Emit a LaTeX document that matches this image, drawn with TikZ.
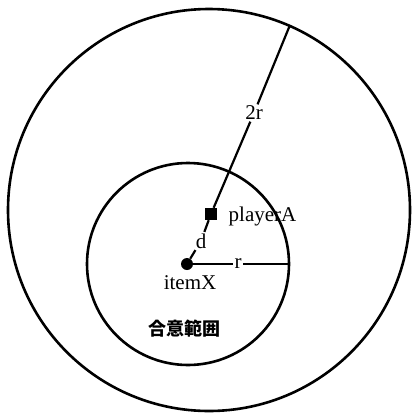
\documentclass[tikz,border=0pt]{standalone}
\usepackage{fontspec}
\setmainfont{Liberation Serif}
\newfontfamily\cjk{Noto Sans CJK JP}
\begin{document}
\begin{tikzpicture}[x=1pt,y=-1pt,
  ring/.style={draw=black,line width=2.6pt},
  seg/.style={draw=black,line width=2.2pt},
  lab/.style={inner sep=1.5pt,font=\fontsize{21}{24}\selectfont},
  dotnode/.style={circle,fill=black,inner sep=0pt,minimum size=12pt},
  sqnode/.style={rectangle,fill=black,inner sep=0pt,minimum size=12pt}]
\useasboundingbox (0,0) rectangle (412,416);
% circles
\draw[ring] (209,210) circle (201);
\draw[ring] (188,264) circle (101);
% points
\node[dotnode] (item) at (187,264) {};
\node[sqnode] (player) at (211,214) {};
\coordinate (rend) at (289,264);
\coordinate (outer) at (290,25);
% labels
\node[lab] (rlab) at (238,264) {r};
\node[lab] (dlab) at (201,241) {d};
\node[lab] (tworlab) at (254,113) {2r};
\node[lab,anchor=west] (plab) at (227,216) {playerA};
\node[lab] (ilab) at (190,283) {itemX};
\node[inner sep=0pt,font=\cjk\bfseries\fontsize{18}{20}\selectfont] (zone) at (184,329) {合意範囲};
% connectors
\draw[seg] (item) -- (rlab);
\draw[seg] (rlab) -- (rend);
\draw[seg] (item) -- (dlab);
\draw[seg] (dlab) -- (player);
\draw[seg] (player) -- (tworlab);
\draw[seg] (tworlab) -- (outer);
\end{tikzpicture}
\end{document}
